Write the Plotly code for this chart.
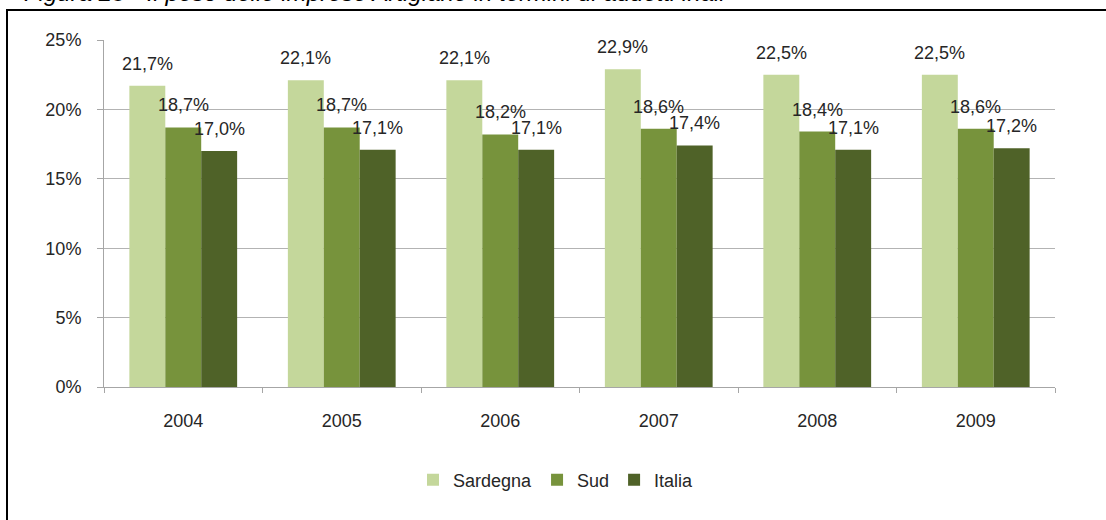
import plotly.graph_objects as go

# ---- data ----
years = ["2004", "2005", "2006", "2007", "2008", "2009"]
sardegna = [21.7, 22.1, 22.1, 22.9, 22.5, 22.5]
sud = [18.7, 18.7, 18.2, 18.6, 18.4, 18.6]
italia = [17.0, 17.1, 17.1, 17.4, 17.1, 17.2]
series_names = ["Sardegna", "Sud", "Italia"]
y_ticks = [0, 5, 10, 15, 20, 25]
title_text = "Figura 28 - Il peso delle imprese Artigiane in termini di addetti inail"

# ---- styles ----
colors = ["#C4D79B", "#77933C", "#4F6228"]
FONT = "Liberation Sans, Arial, sans-serif"
TXT = "#262626"
W, H = 1106, 520
ML, MR, MT, MB = 104, 51, 40, 133
BARGAP = 0.32
plot_w = W - ML - MR
plot_h = H - MT - MB

def fmt(v):
    return f"{v:.1f}%".replace(".", ",")

fig = go.Figure()
all_series = [sardegna, sud, italia]
for name, vals, col in zip(series_names, all_series, colors):
    fig.add_trace(go.Bar(
        name=name, x=years, y=vals,
        marker=dict(color=col, line=dict(width=0)),
        hoverinfo="x+y+name",
    ))

# data labels as annotations centered over each bar
bar_px = plot_w / len(years) * (1 - BARGAP) / len(all_series)
annotations = []
for i, vals in enumerate(all_series):
    offset = (i - (len(all_series) - 1) / 2) * bar_px
    for j, v in enumerate(vals):
        annotations.append(dict(
            x=j, y=v, xref="x", yref="y", text=fmt(v), showarrow=False,
            xanchor="center", yanchor="bottom", xshift=offset, yshift=10,
            font=dict(family=FONT, size=18, color=TXT),
        ))

# title (partially cut at top, as in the reference)
annotations.append(dict(
    x=(22 - ML) / plot_w, y=1 + (MT - 8) / plot_h, xref="paper", yref="paper",
    text=f"<i>{title_text}</i>", showarrow=False, xanchor="left", yanchor="bottom",
    font=dict(family=FONT, size=24, color="#000000"),
))

# frame lines (left and top)
def px_x(p):
    return (p - ML) / plot_w
def px_y(p):
    return 1 - (p - MT) / plot_h

shapes = [
    dict(type="line", xref="paper", yref="paper", x0=px_x(7), x1=px_x(7), y0=px_y(9), y1=px_y(H + 5),
         line=dict(color="#000000", width=2)),
    dict(type="line", xref="paper", yref="paper", x0=px_x(6), x1=px_x(W + 5), y0=px_y(10), y1=px_y(10),
         line=dict(color="#000000", width=2)),
]

fig.update_layout(
    width=W, height=H,
    margin=dict(l=ML, r=MR, t=MT, b=MB, pad=0),
    paper_bgcolor="white", plot_bgcolor="white",
    barmode="group", bargap=BARGAP, bargroupgap=0,
    font=dict(family=FONT, size=18, color=TXT),
    showlegend=True,
    legend=dict(orientation="h", x=(556 - ML) / plot_w, xanchor="center",
                y=-(480 - (H - MB)) / plot_h, yanchor="middle",
                font=dict(family=FONT, size=18, color=TXT),
                itemwidth=30, tracegroupgap=0, bgcolor="rgba(0,0,0,0)"),
    annotations=annotations,
    shapes=shapes,
    xaxis=dict(
        type="category", categoryorder="array", categoryarray=years,
        range=[-0.5, len(years) - 0.5], autorange=False,
        showgrid=False, showline=True, linecolor="#A6A6A6", linewidth=1,
        ticks="outside", tickson="boundaries", ticklen=5, tickcolor="#A6A6A6",
        ticklabelstandoff=17, tickangle=0, tickfont=dict(family=FONT, size=18, color=TXT),
        fixedrange=True,
    ),
    yaxis=dict(
        range=[0, 25], autorange=False, tickvals=y_ticks, ticktext=[f"{t}%" for t in y_ticks],
        showgrid=True, gridcolor="#B3B3B3", gridwidth=1,
        showline=True, linecolor="#A6A6A6", linewidth=1,
        ticks="outside", ticklen=6, tickcolor="#A6A6A6",
        ticklabelstandoff=12, tickfont=dict(family=FONT, size=18, color=TXT),
        zeroline=False, fixedrange=True,
    ),
)

fig.write_html(
    "out.html",
    config={"displayModeBar": False},
    post_script="document.body.style.margin='0';document.body.style.overflow='hidden';",
)
